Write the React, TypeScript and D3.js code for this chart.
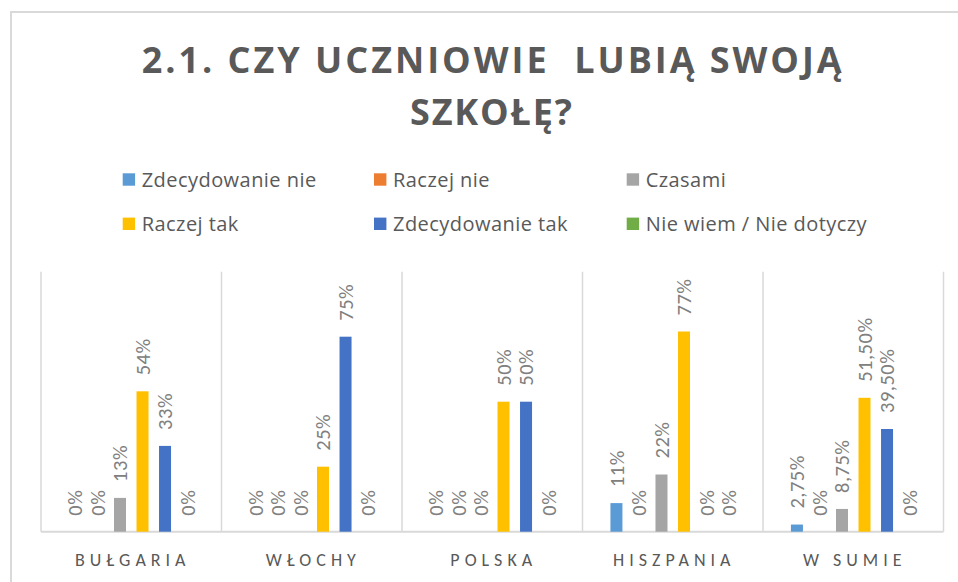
import React from "react";
import * as d3 from "d3";

const categories = ["BUŁGARIA", "WŁOCHY", "POLSKA", "HISZPANIA", "W SUMIE"];
const seriesNames = [
  "Zdecydowanie nie",
  "Raczej nie",
  "Czasami",
  "Raczej tak",
  "Zdecydowanie tak",
  "Nie wiem / Nie dotyczy",
];
const seriesColors = ["#5B9BD5", "#ED7D31", "#A5A5A5", "#FFC000", "#4472C4", "#70AD47"];
const zdecydowanieNie = [0, 0, 0, 11, 2.75];
const raczejNie = [0, 0, 0, 0, 0];
const czasami = [13, 0, 0, 22, 8.75];
const raczejTak = [54, 25, 50, 77, 51.5];
const zdecydowanieTak = [33, 75, 50, 0, 39.5];
const nieWiem = [0, 0, 0, 0, 0];
const labelDecimals = [0, 0, 0, 0, 2];
const titleLines = ["2.1. CZY UCZNIOWIE  LUBIĄ SWOJĄ", "SZKOŁĘ?"];

const seriesValues = [zdecydowanieNie, raczejNie, czasami, raczejTak, zdecydowanieTak, nieWiem];

const FONT = "Carlito, Calibri, Lato, 'Open Sans', sans-serif";
const TITLE_FONT = "'Open Sans', Lato, sans-serif";

function fmt(v: number, dec: number) {
  if (v === 0) return "0%";
  return v.toFixed(dec).replace(".", ",") + "%";
}

export default function App() {
  const W = 958;
  const H = 582;
  const plotLeft = 41;
  const plotRight = 943.5;
  const plotTop = 271.7;
  const baseline = 531.7;

  const x0 = d3.scaleBand<string>().domain(categories).range([plotLeft, plotRight]).padding(0);
  const x1 = d3
    .scaleBand<string>()
    .domain(seriesNames)
    .range([0, x0.bandwidth()])
    .paddingInner(0.467)
    .paddingOuter(1.24);
  const y = d3.scaleLinear().domain([0, 100]).range([baseline, plotTop]);

  const boundaries = categories.map((c) => x0(c) as number).concat([plotRight]);

  const legendCols = [122.7, 374, 626.7];
  const legendRows = [186.7, 231];

  return (
    <svg
      width={W}
      height={H}
      style={{ position: "absolute", left: 0, top: 0, background: "#fff" }}
      fontFamily={FONT}
    >
      <rect x={0} y={0} width={W} height={H} fill="#fff" />
      {/* chart frame */}
      <path d={`M11,${H} L11,12 L${W},12`} fill="none" stroke="#d9d9d9" strokeWidth={2} />

      {/* title */}
      <text
        x={141.7}
        y={73}
        fontSize={36}
        fontWeight={700}
        fontFamily={TITLE_FONT}
        fill="#595959"
        textLength={700}
        lengthAdjust="spacing"
        style={{ whiteSpace: "pre" }}
      >
        {titleLines[0]}
      </text>
      <text
        x={410}
        y={125}
        fontSize={36}
        fontWeight={700}
        fontFamily={TITLE_FONT}
        fill="#595959"
        textLength={162}
        lengthAdjust="spacing"
      >
        {titleLines[1]}
      </text>

      {/* legend */}
      {seriesNames.map((name, i) => {
        const lx = legendCols[i % 3];
        const ly = legendRows[Math.floor(i / 3)];
        return (
          <g key={name}>
            <rect x={lx} y={ly - 13.4} width={12.4} height={12.4} fill={seriesColors[i]} />
            <text
              x={lx + 19}
              y={ly}
              fontSize={20}
              fontFamily={TITLE_FONT}
              fill="#595959"
              letterSpacing={0.45}
            >
              {name}
            </text>
          </g>
        );
      })}

      {/* gridlines / separators */}
      {boundaries.map((bx, i) => (
        <line
          key={i}
          x1={bx}
          x2={bx}
          y1={plotTop}
          y2={baseline}
          stroke="#d9d9d9"
          strokeWidth={1.5}
        />
      ))}
      <line x1={plotLeft} x2={plotRight} y1={baseline} y2={baseline} stroke="#d9d9d9" strokeWidth={2} />

      {/* bars */}
      {categories.map((cat, ci) => (
        <g key={cat} transform={`translate(${x0(cat)},0)`}>
          {seriesNames.map((s, si) => {
            const v = seriesValues[si][ci];
            const bx = x1(s) as number;
            const bw = x1.bandwidth();
            const top = y(v);
            const cx = bx + bw / 2;
            return (
              <g key={s}>
                {v > 0 && (
                  <rect x={bx} y={top} width={bw} height={baseline - top} fill={seriesColors[si]} />
                )}
                <text
                  transform={`translate(${cx},${top - 16}) rotate(-90)`}
                  dy="0.35em"
                  fontSize={20.5}
                  fontWeight={300}
                  fill="#808080"
                  letterSpacing={0.5}
                >
                  {fmt(v, labelDecimals[ci])}
                </text>
              </g>
            );
          })}
        </g>
      ))}

      {/* category labels */}
      {categories.map((cat) => (
        <text
          key={cat}
          x={(x0(cat) as number) + x0.bandwidth() / 2 + 1.5}
          y={565.7}
          fontSize={18}
          fill="#595959"
          textAnchor="middle"
          letterSpacing={5}
        >
          {cat}
        </text>
      ))}
    </svg>
  );
}
